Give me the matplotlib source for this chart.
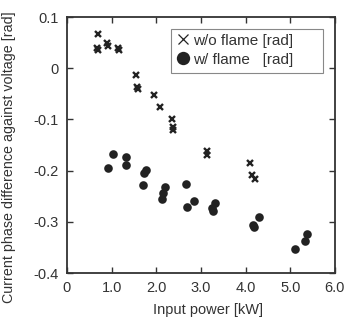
import matplotlib.pyplot as plt
from matplotlib.lines import Line2D
from matplotlib.patches import Rectangle

plt.rcParams['font.family'] = ['Liberation Sans', 'DejaVu Sans']

# w/o flame (crosses)
woX = [0.69, 0.68, 0.70, 0.90, 0.92, 1.15, 1.17, 1.54, 1.57, 1.58,
       1.95, 2.08, 2.35, 2.37, 2.38, 3.13, 3.14, 4.10, 4.15, 4.20]
woY = [0.067, 0.040, 0.036, 0.050, 0.043, 0.040, 0.036, -0.013, -0.036, -0.040,
       -0.052, -0.076, -0.100, -0.114, -0.121, -0.161, -0.169, -0.185, -0.209, -0.216]

# w/ flame (circles)
wX = [1.02, 0.92, 1.33, 1.32, 1.77, 1.72, 1.71, 2.19, 2.15, 2.13, 2.66,
      2.68, 2.85, 3.31, 3.24, 3.28, 4.30, 4.16, 4.18, 5.11, 5.32, 5.38]
wY = [-0.168, -0.195, -0.173, -0.188, -0.199, -0.205, -0.227, -0.231, -0.244, -0.256, -0.226,
      -0.270, -0.260, -0.263, -0.272, -0.278, -0.290, -0.307, -0.310, -0.352, -0.338, -0.324]

txt = '#333333'
fs = 10.5
fig = plt.figure(figsize=(3.46, 3.24), dpi=100)
ax = fig.add_axes([0.1936, 0.157, 0.7744, 0.7905])

ax.plot(woX, woY, linestyle='none', marker='x', ms=4, mew=1.7, color='#222222')
ax.plot(wX, wY, linestyle='none', marker='o', ms=6.2, color='#222222', mec='none')

ax.set_xlim(0, 6)
ax.set_ylim(-0.4, 0.1)
ax.set_xticks([0, 1, 2, 3, 4, 5, 6])
ax.set_xticklabels(['0', '1.0', '2.0', '3.0', '4.0', '5.0', '6.0'])
ax.set_yticks([-0.4, -0.3, -0.2, -0.1, 0, 0.1])
ax.set_yticklabels(['-0.4', '-0.3', '-0.2', '-0.1', '0', '0.1'])
ax.tick_params(direction='in', top=True, right=True, length=4, width=1,
               labelsize=fs, labelcolor=txt, colors='#333333', pad=6)
for s in ax.spines.values():
    s.set_linewidth(1.3)
    s.set_color('#333333')

ax.set_xlabel('Input power [kW]', fontsize=fs, color=txt)
ax.xaxis.set_label_coords(0.528, -0.115)
ax.set_ylabel('Current phase difference against voltage [rad]', fontsize=10.3, color=txt)
ax.yaxis.set_label_coords(-0.19, 0.453)

# legend box drawn by hand (wide right padding as in the original)
ax.add_patch(Rectangle((0.388, 0.781), 0.567, 0.172, transform=ax.transAxes,
                       fill=False, edgecolor='#888888', linewidth=0.8, zorder=4))
handles = [Line2D([], [], linestyle='none', marker='x', ms=7.5, mew=0.9, color='#222222'),
           Line2D([], [], linestyle='none', marker='o', ms=9.6, color='#222222', mec='none')]
leg = ax.legend(handles, ['w/o flame [rad]', 'w/ flame   [rad]'], loc='upper left',
                bbox_to_anchor=(0.4045, 0.935), fontsize=11, frameon=False,
                handlelength=1.0, handletextpad=0.15, borderpad=0, labelspacing=0.32,
                borderaxespad=0)
for t in leg.get_texts():
    t.set_color(txt)

fig.savefig('out.png', dpi=100)
